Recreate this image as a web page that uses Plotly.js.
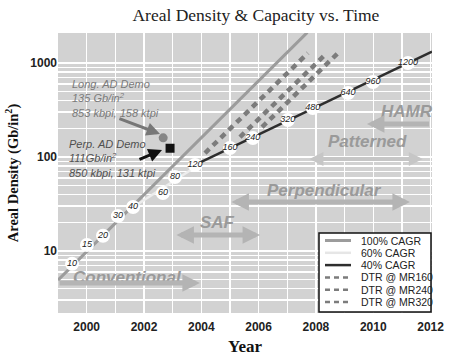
<!DOCTYPE html>
<html>
<head>
<meta charset="utf-8">
<script src="https://cdn.plot.ly/plotly-3.0.1.min.js"></script>
<style>html,body{margin:0;padding:0;background:#fff}#chart{width:453px;height:357px}</style>
</head>
<body>
<div id="chart"></div>
<script>
// ---- data ----
var cagr100X = [1999.0, 2007.7];
var cagr100Y = [4.9, 2120];
var cagr60X = [2001.6, 2004.0];
var cagr60Y = [29, 86];
var cagr40X = [2004.0, 2012.05];
var cagr40Y = [89, 1325];
var dtr160X = [2004.13, 2007.72];
var dtr160Y = [110, 1277];
var dtr240X = [2005.35, 2008.38];
var dtr240Y = [163, 1277];
var dtr320X = [2006.12, 2008.84];
var dtr320Y = [208, 1342];
var capLabels = ["10","15","20","30","40","60","80","120","160","240","320","480","640","960","1200"];
var capX = [1999.49, 2000.01, 2000.57, 2001.09, 2001.62, 2002.66, 2003.08, 2003.78, 2005.0, 2005.80, 2007.02, 2007.89, 2009.12, 2009.99, 2011.21];
var capY = [7.3, 11.6, 14.5, 23.5, 29.4, 41.4, 61.2, 82.2, 124.7, 159, 248, 332, 480, 628, 1000];
var longDemoX = [2002.67];
var longDemoY = [160];
var perpDemoX = [2002.91];
var perpDemoY = [124];
var yMajorVals = [10, 100, 1000];
var yMinorVals = [2,3,4,5,6,7,8,9,20,30,40,50,60,70,80,90,200,300,400,500,600,700,800,900];
var xMajorVals = [2000,2002,2004,2006,2008,2010,2012];
var xMinorVals = [2001,2003,2005,2007,2009,2011];

var seriesNames = ['100% CAGR','60% CAGR','40% CAGR','DTR @ MR160','DTR @ MR240','DTR @ MR320'];
var seriesLines = [
  {color:'#9c9c9c', width:3},
  {color:'#ededed', width:2.5},
  {color:'#2e2e2e', width:2.5},
  {color:'#7c7c7c', width:4.5, dash:'6px,5px'},
  {color:'#7c7c7c', width:4.5, dash:'6px,5px'},
  {color:'#7c7c7c', width:4.5, dash:'6px,5px'}
];
var seriesX = [cagr100X, cagr60X, cagr40X, dtr160X, dtr240X, dtr320X];
var seriesY = [cagr100Y, cagr60Y, cagr40Y, dtr160Y, dtr240Y, dtr320Y];

var traces = [];
for (var i = 0; i < seriesNames.length; i++) {
  traces.push({x: seriesX[i], y: seriesY[i], mode:'lines', name: seriesNames[i], line: seriesLines[i], showlegend:false});
}
traces.push({x: longDemoX, y: longDemoY, mode:'markers', showlegend:false, marker:{color:'#858585', size:9, symbol:'circle'}});
traces.push({x: perpDemoX, y: perpDemoY, mode:'markers', showlegend:false, marker:{color:'#111', size:9, symbol:'square'}});
traces.push({x: capX, y: capY, mode:'markers+text', text: capLabels, textposition:'middle center', showlegend:false,
   marker:{color:'#ffffff', size:14, line:{width:0}},
   textfont:{family:'Liberation Sans, Arial, sans-serif', size:9, color:'#222', style:'italic'}});

var bigFont = {family:'Liberation Sans, Arial, sans-serif', size:17, color:'#9a9a9a', weight:'bold', style:'italic'};
function lbl(t, x, y){ return {text:t, x:x, y:y, xref:'x', yref:'y', showarrow:false, font:bigFont, xanchor:'center', yanchor:'middle'}; }
function arr(x, y, ax, ay, both, col, w){
  return {x:x, y:y, ax:ax, ay:ay, xref:'x', yref:'y', axref:'x', ayref:'y', text:'', showarrow:true,
    arrowcolor:col || '#b4b4b4', arrowwidth:w || 5, arrowhead:2, arrowsize:0.7, arrowside: both?'end+start':'end', standoff:0, startstandoff:0};
}
var annotations = [
  {text:'Long. AD Demo<br>135 Gb/in<sup>2</sup><br>853 kbpi, 158 ktpi', x:1999.42, y:2.86, xref:'x', yref:'y', xanchor:'left', yanchor:'top', align:'left', showarrow:false,
   font:{family:'Liberation Sans, Arial, sans-serif', size:11, color:'#7a7a7a', style:'italic'}},
  {text:'Perp. AD Demo<br>111Gb/in<sup>2</sup><br>850 kbpi, 131 ktpi', x:1999.31, y:2.22, xref:'x', yref:'y', xanchor:'left', yanchor:'top', align:'left', showarrow:false,
   font:{family:'Liberation Sans, Arial, sans-serif', size:11, color:'#505050', style:'italic'}},
  {x:2002.56, y:2.245, ax:2001.09, ay:2.415, xref:'x', yref:'y', axref:'x', ayref:'y', text:'', showarrow:true, arrowcolor:'#777', arrowwidth:3, arrowhead:2, arrowsize:0.9, standoff:0},
  {x:2002.63, y:2.074, ax:2001.79, ay:1.968, xref:'x', yref:'y', axref:'x', ayref:'y', text:'', showarrow:true, arrowcolor:'#111', arrowwidth:3, arrowhead:2, arrowsize:0.9, standoff:0},
  lbl('HAMR', 2011.17, 2.489),
  lbl('Patterned', 2009.81, 2.170),
  lbl('Perpendicular', 2008.31, 1.649),
  lbl('SAF', 2004.58, 1.298),
  lbl('Conventional', 2001.44, 0.723),
  arr(2009.78, 2.351, 2012.0, 2.351, false),
  arr(2011.73, 1.979, 2007.72, 1.979, true, '#c6c6c6', 4),
  arr(2011.28, 1.521, 2005.0, 1.521, true),
  arr(2006.05, 1.170, 2003.08, 1.170, true),
  arr(2003.95, 0.660, 1999.0, 0.660, false)
];

// ---- hand-built legend box (pixel placement converted to paper fractions) ----
var PL = 58, PR = 432, PT = 33, PB = 313;
function px(v){ return (v - PL) / (PR - PL); }
function py(v){ return (PB - v) / (PB - PT); }
var shapes = [
  {type:'rect', xref:'paper', yref:'paper', x0:px(319), x1:px(431), y0:py(312), y1:py(233), fillcolor:'#ffffff', line:{color:'#111', width:1.5}, layer:'above'}
];
var legRowY = [240.5, 252.8, 265.1, 277.4, 289.7, 302];
for (var k = 0; k < seriesNames.length; k++) {
  var ln = seriesLines[k];
  shapes.push({type:'line', xref:'paper', yref:'paper', x0:px(325), x1:px(351), y0:py(legRowY[k]), y1:py(legRowY[k]),
    line:{color:ln.color === '#ededed' ? '#e6e6e6' : ln.color, width: ln.dash ? 2.5 : ln.width, dash: ln.dash ? '5px,4px' : 'solid'}, layer:'above'});
  annotations.push({text: seriesNames[k], xref:'paper', yref:'paper', x:px(359), y:py(legRowY[k]), xanchor:'left', yanchor:'middle', showarrow:false,
    font:{family:'Liberation Sans, Arial, sans-serif', size:10.5, color:'#222'}});
}

var layout = {
  width:453, height:357,
  margin:{l:PL, r:453-PR, t:PT, b:357-PB},
  paper_bgcolor:'#ffffff', plot_bgcolor:'#d2d2d2',
  showlegend:false,
  title:{text:'Areal Density &amp; Capacity vs. Time', x:0.565, xref:'container', xanchor:'center', y:0.958, yref:'container', yanchor:'middle',
    font:{family:'Liberation Serif, Times New Roman, serif', size:17.5, color:'#222'}},
  xaxis:{range:[1999, 2012.05], tickvals:xMajorVals, ticktext:xMajorVals.map(String), showgrid:true, gridcolor:'#ffffff', gridwidth:1.5,
    minor:{tickvals:xMinorVals, showgrid:true, gridcolor:'#ffffff', gridwidth:1.5, ticks:''},
    zeroline:false, showline:false, ticks:'', ticklabelstandoff:5, tickfont:{family:'Liberation Sans, Arial, sans-serif', size:12, color:'#222', weight:'bold'},
    title:{text:'Year', standoff:7, font:{family:'Liberation Serif, Times New Roman, serif', size:17, color:'#111', weight:'bold'}}},
  yaxis:{type:'log', range:[0.34, 3.32], tickvals:yMajorVals, ticktext:yMajorVals.map(String), showgrid:true, gridcolor:'#ffffff', gridwidth:1.5,
    minor:{tickvals:yMinorVals, showgrid:true, gridcolor:'#ffffff', gridwidth:1.5, ticks:''},
    zeroline:false, showline:false, ticks:'', tickfont:{family:'Liberation Sans, Arial, sans-serif', size:12, color:'#222', weight:'bold'},
    title:{text:'Areal Density (Gb/in<sup>2</sup>)', standoff:8, font:{family:'Liberation Serif, Times New Roman, serif', size:14.5, color:'#111', weight:'bold'}}},
  shapes:shapes,
  annotations:annotations
};
Plotly.newPlot('chart', traces, layout, {displayModeBar:false, staticPlot:true});
</script>
</body>
</html>
